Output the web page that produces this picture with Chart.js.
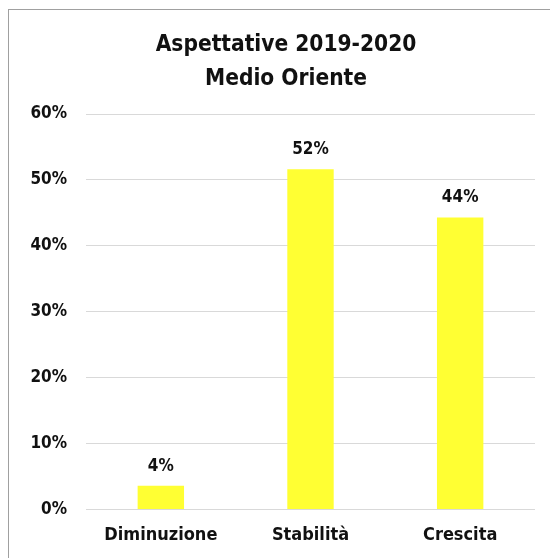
<!DOCTYPE html>
<html>
<head>
<meta charset="utf-8">
<script src="https://cdn.jsdelivr.net/npm/chart.js@4.4.1/dist/chart.umd.min.js"></script>
<style>
  html, body { margin: 0; padding: 0; background: #fff; overflow: hidden; width: 550px; height: 558px; }
  .frame { position: absolute; left: 8px; top: 9px; width: 600px; height: 600px; border-left: 1px solid #a0a0a0; border-top: 1px solid #a0a0a0; }
  #chart { position: absolute; left: 0; top: 0; }
</style>
</head>
<body>
<div class="frame"></div>
<canvas id="chart" width="572" height="570"></canvas>
<script>
const titleLines = ['Aspettative 2019-2020', 'Medio Oriente'];
const categories = ['Diminuzione', 'Stabilità', 'Crescita'];
const shares = [0.036, 0.516, 0.443];
const yTicks = [0, 0.1, 0.2, 0.3, 0.4, 0.5, 0.6];

const FONT = "'DejaVu Sans Condensed', 'DejaVu Sans', sans-serif";
const pct = v => Math.round(v * 100) + '%';

// value labels above each bar
const barLabels = {
  id: 'barLabels',
  afterDatasetsDraw(chart) {
    const ctx = chart.ctx;
    const meta = chart.getDatasetMeta(0);
    ctx.save();
    ctx.font = 'bold 17px ' + FONT;
    ctx.fillStyle = '#111';
    ctx.textAlign = 'center';
    ctx.textBaseline = 'alphabetic';
    meta.data.forEach((bar, i) => {
      ctx.fillText(pct(shares[i]), bar.x, bar.y - 15);
    });
    ctx.restore();
  }
};

new Chart(document.getElementById('chart').getContext('2d'), {
  type: 'bar',
  data: {
    labels: categories,
    datasets: [{
      data: shares,
      backgroundColor: '#ffff33',
      borderWidth: 0,
      categoryPercentage: 1,
      barPercentage: 0.31,
    }],
  },
  options: {
    responsive: false,
    animation: false,
    layout: { padding: 0 },
    plugins: {
      legend: { display: false },
      tooltip: { enabled: false },
      title: {
        display: true,
        text: titleLines,
        color: '#111',
        font: { family: FONT, size: 22.5, weight: 'bold', lineHeight: '34px' },
        padding: { top: 28, bottom: 18 },
      },
    },
    scales: {
      x: {
        grid: { display: false },
        border: { display: false },
        ticks: {
          color: '#111',
          padding: 7,
          font: { family: FONT, size: 18, weight: 'bold' },
        },
        afterFit: scale => { scale.height = 60.5; },
      },
      y: {
        min: 0,
        max: 0.6,
        afterBuildTicks: scale => { scale.ticks = yTicks.map(v => ({ value: v })); },
        grid: { color: '#d9d9d9', lineWidth: 1, drawTicks: false },
        border: { display: false },
        ticks: {
          color: '#111',
          padding: 19,
          font: { family: FONT, size: 17, weight: 'bold' },
          callback: v => pct(v),
        },
        afterFit: scale => { scale.width = 86; },
      },
      // empty axis on the right keeps the title centred on the full frame
      spacer: {
        type: 'linear',
        position: 'right',
        grid: { display: false },
        border: { display: false },
        ticks: { display: false },
        afterFit: scale => { scale.width = 37; },
      },
    },
  },
  plugins: [barLabels],
});
</script>
</body>
</html>
